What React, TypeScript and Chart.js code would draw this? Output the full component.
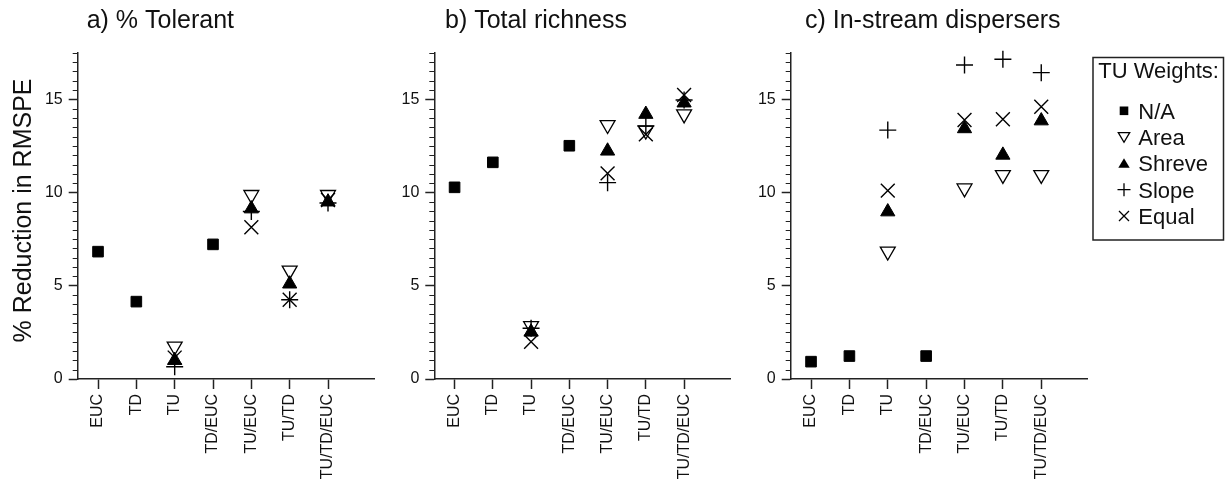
import React, { useEffect, useRef } from 'react';
import { Chart, registerables } from 'chart.js';

Chart.register(...registerables);

// ---------- data ----------
const categories = ['EUC', 'TD', 'TU', 'TD/EUC', 'TU/EUC', 'TU/TD', 'TU/TD/EUC'];
const yTickStep = 5;
const yMinorStep = 0.5;
const yMax = 17.5;
const panelTitles = ['a) % Tolerant', 'b) Total richness', 'c) In-stream dispersers'];
const yAxisTitle = '% Reduction in RMSPE';
const legendTitle = 'TU Weights:';
const seriesNames = ['N/A', 'Area', 'Shreve', 'Slope', 'Equal'];

// a) % Tolerant
const tolerantNA = [6.83, 4.15, null, 7.22, null, null, null];
const tolerantArea = [null, null, 1.75, null, 9.88, 5.82, 9.88];
const tolerantShreve = [null, null, 1.0, null, 9.13, 5.1, 9.5];
const tolerantSlope = [null, null, 0.66, null, 8.98, 4.25, 9.44];
const tolerantEqual = [null, null, 1.15, null, 8.14, 4.25, 9.6];

// b) Total richness
const richnessNA = [10.28, 11.62, null, 12.51, null, null, null];
const richnessArea = [null, null, 2.85, null, 13.63, 13.33, 14.2];
const richnessShreve = [null, null, 2.52, null, 12.23, 14.2, 14.81];
const richnessSlope = [null, null, 2.72, null, 10.53, 13.57, 14.96];
const richnessEqual = [null, null, 2.0, null, 11.03, 13.12, 15.23];

// c) In-stream dispersers
const dispersersNA = [0.93, 1.23, null, 1.23, null, null, null];
const dispersersArea = [null, null, 6.84, null, 10.23, 10.95, 10.95];
const dispersersShreve = [null, null, 8.97, null, 13.43, 12.01, 13.85];
const dispersersSlope = [null, null, 13.35, null, 16.84, 17.15, 16.43];
const dispersersEqual = [null, null, 10.1, null, 13.89, 13.93, 14.6];

// ---------- layout / styles ----------
const W = 1227;
const H = 485;
const FONT = '"Liberation Sans", Arial, Helvetica, sans-serif';
const X_MIN = -0.53;
const X_MAX = 7.2;
const PLOT_TOP = 52.7;
const X_AXIS_H = 106;

const markerStyles = [
  { pointStyle: 'rect', radius: 7.5, fill: '#000', border: '#000', lw: 1, rotation: 0, order: 1 },
  { pointStyle: 'triangle', radius: 8.6, fill: '#fff', border: '#000', lw: 1.3, rotation: 180, order: 5 },
  { pointStyle: 'triangle', radius: 8.2, fill: '#000', border: '#000', lw: 1, rotation: 0, order: 4 },
  { pointStyle: 'cross', radius: 8.5, fill: '#000', border: '#000', lw: 1.4, rotation: 0, order: 3 },
  { pointStyle: 'crossRot', radius: 9.8, fill: '#000', border: '#000', lw: 1.4, rotation: 0, order: 2 },
];

const panels = [
  {
    title: panelTitles[0],
    series: [tolerantNA, tolerantArea, tolerantShreve, tolerantSlope, tolerantEqual],
    left: 0, width: 392, yWidth: 77.7, padRight: 18, titleX: 86.7, yTitle: yAxisTitle, legend: false,
  },
  {
    title: panelTitles[1],
    series: [richnessNA, richnessArea, richnessShreve, richnessSlope, richnessEqual],
    left: 392, width: 358, yWidth: 42.3, padRight: 20, titleX: 445 - 392, yTitle: '', legend: false,
  },
  {
    title: panelTitles[2],
    series: [dispersersNA, dispersersArea, dispersersShreve, dispersersSlope, dispersersEqual],
    left: 750, width: 477, yWidth: 40.7, padRight: 139.7, titleX: 805 - 750, yTitle: '', legend: true,
  },
];

function drawLegendMarker(ctx: CanvasRenderingContext2D, kind: number, x: number, y: number) {
  ctx.save();
  ctx.strokeStyle = '#000';
  ctx.fillStyle = '#000';
  ctx.lineWidth = 1.3;
  ctx.beginPath();
  if (kind === 0) {
    ctx.fillRect(x - 4.3, y - 4.3, 8.6, 8.6);
  } else if (kind === 1) {
    ctx.moveTo(x - 5.7, y - 4.4);
    ctx.lineTo(x + 5.7, y - 4.4);
    ctx.lineTo(x, y + 5.2);
    ctx.closePath();
    ctx.fillStyle = '#fff';
    ctx.fill();
    ctx.stroke();
  } else if (kind === 2) {
    ctx.moveTo(x - 5.7, y + 4.4);
    ctx.lineTo(x + 5.7, y + 4.4);
    ctx.lineTo(x, y - 5.2);
    ctx.closePath();
    ctx.fill();
  } else if (kind === 3) {
    ctx.moveTo(x - 6.5, y);
    ctx.lineTo(x + 6.5, y);
    ctx.moveTo(x, y - 6.5);
    ctx.lineTo(x, y + 6.5);
    ctx.stroke();
  } else {
    ctx.moveTo(x - 5, y - 5);
    ctx.lineTo(x + 5, y + 5);
    ctx.moveTo(x + 5, y - 5);
    ctx.lineTo(x - 5, y + 5);
    ctx.stroke();
  }
  ctx.restore();
}

const decorPlugin = {
  id: 'decor',
  afterDraw(chart: any, _args: any, opts: any) {
    const ctx: CanvasRenderingContext2D = chart.ctx;
    const ys = chart.scales.y;
    const left = chart.chartArea.left;
    ctx.save();
    // minor ticks
    ctx.strokeStyle = '#222';
    ctx.lineWidth = 1;
    const n = Math.round(yMax / yMinorStep);
    for (let k = 1; k <= n; k++) {
      const v = k * yMinorStep;
      if (Math.abs(v / yTickStep - Math.round(v / yTickStep)) < 1e-9) continue;
      const py = Math.round(ys.getPixelForValue(v)) + 0.5;
      ctx.beginPath();
      ctx.moveTo(left - 5, py);
      ctx.lineTo(left, py);
      ctx.stroke();
    }
    // panel title
    ctx.fillStyle = '#111';
    ctx.font = `25px ${FONT}`;
    ctx.textAlign = 'left';
    ctx.textBaseline = 'alphabetic';
    ctx.fillText(opts.title, opts.titleX, 28.3);
    // y-axis title
    if (opts.yTitle) {
      ctx.save();
      ctx.translate(24.5, 210.5);
      ctx.rotate(-Math.PI / 2);
      ctx.font = `25px ${FONT}`;
      ctx.textAlign = 'center';
      ctx.textBaseline = 'middle';
      ctx.fillText(opts.yTitle, 0, 0);
      ctx.restore();
    }
    // legend
    if (opts.legend) {
      const bx = 343, by = 57.5, bw = 130.5, bh = 182.5;
      ctx.strokeStyle = '#222';
      ctx.lineWidth = 1.5;
      ctx.strokeRect(bx, by, bw, bh);
      ctx.font = `22px ${FONT}`;
      ctx.fillStyle = '#111';
      ctx.textAlign = 'left';
      ctx.textBaseline = 'alphabetic';
      ctx.fillText(legendTitle, 348.3, 78.3);
      seriesNames.forEach((name, i) => {
        const cy = 110.8 + i * 26.3;
        drawLegendMarker(ctx, i, 374, cy);
        ctx.fillStyle = '#111';
        ctx.fillText(name, 388.3, cy + 8);
      });
    }
    ctx.restore();
  },
};

function makeConfig(p: any): any {
  return {
    type: 'scatter',
    data: {
      datasets: p.series.map((arr: (number | null)[], si: number) => {
        const st = markerStyles[si];
        return {
          label: seriesNames[si],
          data: arr
            .map((v, i) => (v == null ? null : { x: i, y: v }))
            .filter((d) => d !== null),
          pointStyle: st.pointStyle,
          pointRadius: st.radius,
          pointHoverRadius: st.radius,
          pointRotation: st.rotation,
          pointBackgroundColor: st.fill,
          pointBorderColor: st.border,
          pointBorderWidth: st.lw,
          order: st.order,
          clip: false,
          showLine: false,
        };
      }),
    },
    options: {
      responsive: false,
      animation: false,
      devicePixelRatio: 1,
      events: [],
      layout: { padding: { top: PLOT_TOP, right: p.padRight, bottom: 0, left: 0 } },
      plugins: {
        legend: { display: false },
        tooltip: { enabled: false },
        title: { display: false },
        decor: { title: p.title, titleX: p.titleX, legend: p.legend, yTitle: p.yTitle },
      },
      scales: {
        x: {
          type: 'linear',
          bounds: 'data',
          min: X_MIN,
          max: X_MAX,
          afterBuildTicks: (s: any) => {
            s.ticks = categories.map((_, i) => ({ value: i }));
          },
          afterFit: (s: any) => {
            s.height = X_AXIS_H;
            s.paddingLeft = 0;
            s.paddingRight = 0;
          },
          ticks: {
            autoSkip: false,
            minRotation: 90,
            maxRotation: 90,
            padding: 5,
            color: '#111',
            font: { size: 16, family: FONT },
            callback: (v: number) => categories[v] ?? '',
          },
          grid: { drawOnChartArea: false, drawTicks: true, tickLength: 10, tickColor: '#222', tickWidth: 1.5 },
          border: { display: true, color: '#222', width: 1.5 },
        },
        y: {
          type: 'linear',
          bounds: 'data',
          min: 0,
          max: yMax,
          afterFit: (s: any) => {
            s.width = p.yWidth;
            s.paddingTop = 0;
            s.paddingBottom = 0;
          },
          ticks: {
            stepSize: yTickStep,
            includeBounds: false,
            padding: 6,
            color: '#111',
            font: { size: 16, family: FONT },
          },
          grid: { drawOnChartArea: false, drawTicks: true, tickLength: 9, tickColor: '#222', tickWidth: 1.5 },
          border: { display: true, color: '#222', width: 1.5 },
          title: { display: false },
        },
      },
    },
    plugins: [decorPlugin],
  };
}

export default function App() {
  const r0 = useRef<HTMLCanvasElement>(null);
  const r1 = useRef<HTMLCanvasElement>(null);
  const r2 = useRef<HTMLCanvasElement>(null);
  const refs = [r0, r1, r2];

  useEffect(() => {
    const charts = panels.map((p, i) => new Chart(refs[i].current as HTMLCanvasElement, makeConfig(p)));
    return () => charts.forEach((c) => c.destroy());
  }, []);

  return (
    <div style={{ position: 'fixed', left: 0, top: 0, width: W, height: H, background: '#fff', overflow: 'hidden' }}>
      {panels.map((p, i) => (
        <canvas
          key={i}
          ref={refs[i]}
          width={p.width}
          height={H}
          style={{ position: 'absolute', left: p.left, top: 0, width: p.width, height: H, display: 'block' }}
        />
      ))}
    </div>
  );
}
